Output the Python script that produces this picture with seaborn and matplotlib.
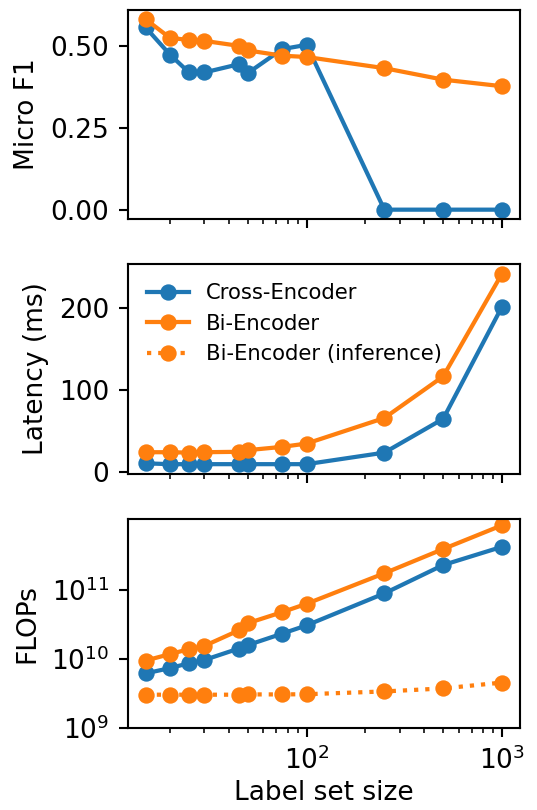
import numpy as np
import pandas as pd
import matplotlib
matplotlib.use('Agg')
import matplotlib.pyplot as plt
import matplotlib.ticker as mtick
from matplotlib.lines import Line2D
import seaborn as sns

label_sizes = [15, 20, 25, 30, 45, 50, 75, 100, 250, 500, 1000]

f1_cross = [0.555, 0.472, 0.418, 0.418, 0.443, 0.416, 0.489, 0.502, 0.0, 0.0, 0.0]
f1_bi = [0.580, 0.523, 0.517, 0.514, 0.499, 0.485, 0.469, 0.465, 0.431, 0.396, 0.376]

lat_cross = [11, 10, 10, 10, 10, 10, 10, 10, 24, 65, 201]
lat_bi = [24.5, 24.5, 24, 24.5, 25, 27, 31, 35, 66, 116.5, 241]

flops_cross = [6.2e9, 7.4e9, 8.7e9, 9.7e9, 1.42e10, 1.59e10, 2.33e10, 3.07e10, 8.9e10, 2.29e11, 4.2e11]
flops_bi = [9.5e9, 1.18e10, 1.39e10, 1.55e10, 2.6e10, 3.3e10, 4.77e10, 6.3e10, 1.74e11, 3.9e11, 8.6e11]
flops_bi_inf = [3.05e9, 3.05e9, 3.05e9, 3.05e9, 3.05e9, 3.08e9, 3.08e9, 3.1e9, 3.4e9, 3.76e9, 4.57e9]

df = pd.DataFrame({
    'size': label_sizes,
    'f1_cross': f1_cross, 'f1_bi': f1_bi,
    'lat_cross': lat_cross, 'lat_bi': lat_bi,
    'flops_cross': flops_cross, 'flops_bi': flops_bi, 'flops_bi_inf': flops_bi_inf,
})

style = dict(marker='o', markersize=6.2, linewidth=1.6, markeredgewidth=0)

fig, axes = plt.subplots(3, 1, figsize=(537 / 190, 810 / 190), dpi=190, sharex=True)
plt.subplots_adjust(left=0.238, right=0.968, top=0.988, bottom=0.101, hspace=0.215)

ax = axes[0]
sns.lineplot(data=df, x='size', y='f1_cross', color='C0', ax=ax, **style)
sns.lineplot(data=df, x='size', y='f1_bi', color='C1', ax=ax, **style)
ax.set_ylabel('Micro F1')
ax.set_yticks([0.0, 0.25, 0.5])

ax = axes[1]
sns.lineplot(data=df, x='size', y='lat_cross', color='C0', ax=ax, **style)
sns.lineplot(data=df, x='size', y='lat_bi', color='C1', ax=ax, **style)
ax.set_ylabel('Latency (ms)')
handles = [
    Line2D([], [], color='C0', **style),
    Line2D([], [], color='C1', **style),
    Line2D([], [], color='C1', linestyle=':', **style),
]
ax.legend(handles, ['Cross-Encoder', 'Bi-Encoder', 'Bi-Encoder (inference)'],
          loc='upper left', frameon=False, fontsize=8)

ax = axes[2]
sns.lineplot(data=df, x='size', y='flops_cross', color='C0', ax=ax, **style)
sns.lineplot(data=df, x='size', y='flops_bi', color='C1', ax=ax, **style)
sns.lineplot(data=df, x='size', y='flops_bi_inf', color='C1', linestyle=':', ax=ax, **style)
ax.set_yscale('log')
ax.set_yticks([1e9, 1e10, 1e11])
ax.yaxis.set_minor_locator(mtick.NullLocator())
ax.set_ylim(1e9, 1.07e12)
ax.set_ylabel('FLOPs')
ax.set_xscale('log')
ax.set_xlabel('Label set size', labelpad=2)

for a in axes[:2]:
    a.set_xlabel('')

plt.savefig('out.png', dpi=190)
plt.close()
